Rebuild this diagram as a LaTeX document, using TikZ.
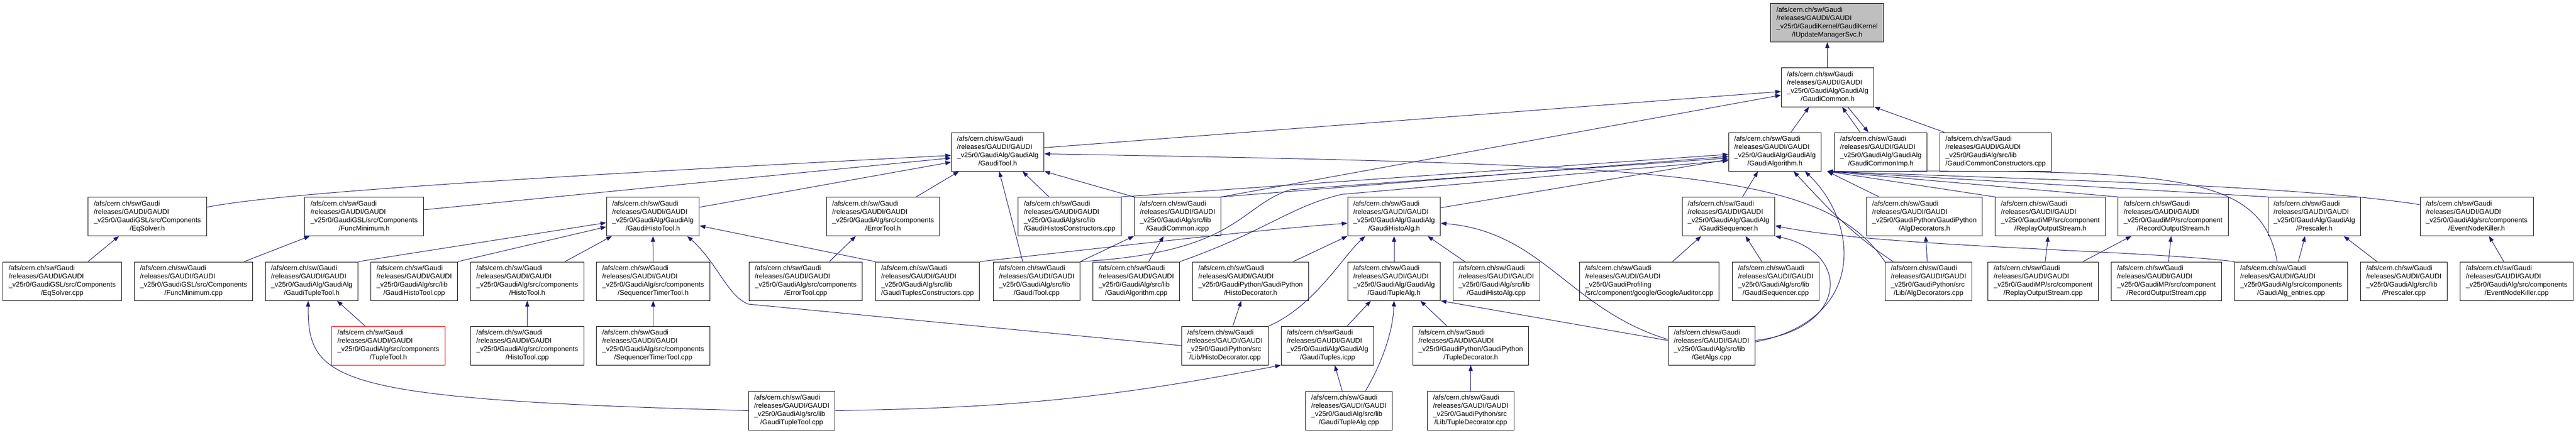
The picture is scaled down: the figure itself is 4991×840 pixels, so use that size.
\documentclass[tikz,border=0pt]{standalone}
\usepackage{fontspec}
\setmainfont{Liberation Sans}
\usepackage{tikz}
\usetikzlibrary{arrows.meta}
\definecolor{edgeblue}{HTML}{191970}
% every box holds the same first two lines, the last line is centred
\newcommand*{\gpath}[2]{\begin{tabular}{@{}l@{}}/afs/cern.ch/sw/Gaudi\\/releases/GAUDI/GAUDI\\\_v25r0/#1\\\multicolumn{1}{@{}c@{}}{/#2}\end{tabular}}
\newcommand*{\gnode}[5][]{\node[file,#1] (#2) at (#3) {\gpath{#4}{#5}};}

\begin{document}
\begin{tikzpicture}[x=1pt,y=1pt,
  file/.style={draw,fill=white,line width=1pt,inner xsep=11pt,inner ysep=5.5pt,font=\fontsize{13.33}{16}\selectfont},
  dep/.style={draw=edgeblue,line width=1pt,-{Triangle[length=11pt,width=8pt]}}]
\useasboundingbox (0,0) rectangle (4991,-840);
% First place the boxes, one row after the other
\gnode[fill=gray!50]{IUpdateMgrH}{3540,-44}{GaudiKernel/GaudiKernel}{IUpdateManagerSvc.h}
\gnode{GaudiCommonH}{3541,-169.5}{GaudiAlg/GaudiAlg}{GaudiCommon.h}
% row 2
\gnode{GaudiToolH}{1933,-294.5}{GaudiAlg/GaudiAlg}{GaudiTool.h}
\gnode{GaudiAlgorithmH}{3439,-294.5}{GaudiAlg/GaudiAlg}{GaudiAlgorithm.h}
\gnode{GaudiCommonImpH}{3644,-294.5}{GaudiAlg/GaudiAlg}{GaudiCommonImp.h}
\gnode{GaudiCommonCtorsCpp}{3866.5,-294.5}{GaudiAlg/src/lib}{GaudiCommonConstructors.cpp}
% row 3
\gnode{EqSolverH}{285.5,-420}{GaudiGSL/src/Components}{EqSolver.h}
\gnode{FuncMinimumH}{705.5,-420}{GaudiGSL/src/Components}{FuncMinimum.h}
\gnode{GaudiHistoToolH}{1265,-420}{GaudiAlg/GaudiAlg}{GaudiHistoTool.h}
\gnode{ErrorToolH}{1711,-420}{GaudiAlg/src/components}{ErrorTool.h}
\gnode{GaudiHistosCtorsCpp}{2072.5,-420}{GaudiAlg/src/lib}{GaudiHistosConstructors.cpp}
\gnode{GaudiCommonIcpp}{2281.5,-420}{GaudiAlg/src/lib}{GaudiCommon.icpp}
\gnode{GaudiHistoAlgH}{2701,-420}{GaudiAlg/GaudiAlg}{GaudiHistoAlg.h}
\gnode{GaudiSequencerH}{3349,-420}{GaudiAlg/GaudiAlg}{GaudiSequencer.h}
\gnode{AlgDecoratorsH}{3728.5,-420}{GaudiPython/GaudiPython}{AlgDecorators.h}
\gnode{ReplayOutputStreamH}{3972.5,-420}{GaudiMP/src/component}{ReplayOutputStream.h}
\gnode{RecordOutputStreamH}{4210.5,-420}{GaudiMP/src/component}{RecordOutputStream.h}
\gnode{PrescalerH}{4484,-420}{GaudiAlg/GaudiAlg}{Prescaler.h}
\gnode{EventNodeKillerH}{4798.5,-420}{GaudiAlg/src/components}{EventNodeKiller.h}
% row 4
\gnode{EqSolverCpp}{120.5,-545.5}{GaudiGSL/src/Components}{EqSolver.cpp}
\gnode{FuncMinimumCpp}{375,-545.5}{GaudiGSL/src/Components}{FuncMinimum.cpp}
\gnode{GaudiTupleToolH}{604,-545.5}{GaudiAlg/GaudiAlg}{GaudiTupleTool.h}
\gnode{GaudiHistoToolCpp}{802.5,-545.5}{GaudiAlg/src/lib}{GaudiHistoTool.cpp}
\gnode{HistoToolH}{1021.5,-545.5}{GaudiAlg/src/components}{HistoTool.h}
\gnode{SequencerTimerToolH}{1265.5,-545.5}{GaudiAlg/src/components}{SequencerTimerTool.h}
\gnode{ErrorToolCpp}{1561,-545.5}{GaudiAlg/src/components}{ErrorTool.cpp}
\gnode{GaudiTuplesCtorsCpp}{1797,-545.5}{GaudiAlg/src/lib}{GaudiTuplesConstructors.cpp}
\gnode{GaudiToolCpp}{2008.5,-545.5}{GaudiAlg/src/lib}{GaudiTool.cpp}
\gnode{GaudiAlgorithmCpp}{2201.5,-545.5}{GaudiAlg/src/lib}{GaudiAlgorithm.cpp}
\gnode{HistoDecoratorH}{2423,-545.5}{GaudiPython/GaudiPython}{HistoDecorator.h}
\gnode{GaudiTupleAlgH}{2701,-545.5}{GaudiAlg/GaudiAlg}{GaudiTupleAlg.h}
\gnode{GaudiHistoAlgCpp}{2899,-545.5}{GaudiAlg/src/lib}{GaudiHistoAlg.cpp}
\gnode{GoogleAuditorCpp}{3195.5,-545.5}{GaudiProfiling}{src/component/google/GoogleAuditor.cpp}
\gnode{GaudiSequencerCpp}{3440.5,-545.5}{GaudiAlg/src/lib}{GaudiSequencer.cpp}
\gnode{AlgDecoratorsCpp}{3736.5,-545.5}{GaudiPython/src}{Lib/AlgDecorators.cpp}
\gnode{ReplayOutputStreamCpp}{3958.5,-545.5}{GaudiMP/src/component}{ReplayOutputStream.cpp}
\gnode{RecordOutputStreamCpp}{4197.5,-545.5}{GaudiMP/src/component}{RecordOutputStream.cpp}
\gnode{GaudiAlgEntriesCpp}{4439,-545.5}{GaudiAlg/src/components}{GaudiAlg\_entries.cpp}
\gnode{PrescalerCpp}{4657.5,-545.5}{GaudiAlg/src/lib}{Prescaler.cpp}
\gnode{EventNodeKillerCpp}{4876,-545.5}{GaudiAlg/src/components}{EventNodeKiller.cpp}
% row 5
\gnode[draw=red]{TupleToolH}{752.5,-670.5}{GaudiAlg/src/components}{TupleTool.h}
\gnode{HistoToolCpp}{1021.5,-670.5}{GaudiAlg/src/components}{HistoTool.cpp}
\gnode{SequencerTimerToolCpp}{1265.5,-670.5}{GaudiAlg/src/components}{SequencerTimerTool.cpp}
\gnode{HistoDecoratorCpp}{2373.5,-670.5}{GaudiPython/src}{Lib/HistoDecorator.cpp}
\gnode{GaudiTuplesIcpp}{2572,-670.5}{GaudiAlg/GaudiAlg}{GaudiTuples.icpp}
\gnode{TupleDecoratorH}{2849.5,-670.5}{GaudiPython/GaudiPython}{TupleDecorator.h}
\gnode{GetAlgsCpp}{3316,-670.5}{GaudiAlg/src/lib}{GetAlgs.cpp}
% row 6
\gnode{GaudiTupleToolCpp}{1534,-796.5}{GaudiAlg/src/lib}{GaudiTupleTool.cpp}
\gnode{GaudiTupleAlgCpp}{2613.5,-796.5}{GaudiAlg/src/lib}{GaudiTupleAlg.cpp}
\gnode{TupleDecoratorCpp}{2849.5,-796.5}{GaudiPython/src}{Lib/TupleDecorator.cpp}

% Now connect the includes: the arrow points at the included file
\draw[dep] (GaudiCommonH) -- (IUpdateMgrH);
\draw[dep] ([xshift=31pt]GaudiAlgorithmH.north) -- ([xshift=-36pt]GaudiCommonH.south);
\draw[dep] ([xshift=-40pt]GaudiCommonImpH.north) -- ([xshift=28pt]GaudiCommonH.south);
\draw[dep] ([xshift=39pt]GaudiCommonH.south) -- ([xshift=-24pt]GaudiCommonImpH.north);
\draw[dep] ([xshift=9pt]GaudiCommonCtorsCpp.north west) -- (GaudiCommonH.south east);
\draw[dep] ([yshift=8pt]GaudiToolH.east) -- ([yshift=-8pt]GaudiCommonH.west);
\draw[dep] (GaudiCommonIcpp.north east) -- ([yshift=-15pt]GaudiCommonH.west);
% GaudiTool.h
\draw[dep] ([yshift=18pt]EqSolverH.east) .. controls (520,-378) and (900,-350) .. ([yshift=-7pt]GaudiToolH.west);
\draw[dep] ([yshift=13pt]FuncMinimumH.east) -- ([yshift=-12pt]GaudiToolH.west);
\draw[dep] ([yshift=18pt]GaudiHistoToolH.east) -- ([yshift=-20pt]GaudiToolH.west);
\draw[dep] ([xshift=64pt]ErrorToolH.north) -- ([xshift=-75pt]GaudiToolH.south);
\draw[dep] ([xshift=-27pt]GaudiToolCpp.north) -- ([xshift=3pt]GaudiToolH.south);
\draw[dep] ([xshift=-40pt]GaudiHistosCtorsCpp.north) -- ([xshift=48pt]GaudiToolH.south);
\draw[dep] (GaudiCommonIcpp.north west) -- (GaudiToolH.south east);
\draw[dep] (AlgDecoratorsCpp.north west) .. controls (3530,-330) and (3250,-320) .. ([yshift=-4pt]GaudiToolH.east);
% GaudiHistoTool.h
\draw[dep] (GaudiTupleToolH.north east) -- ([yshift=-12pt]GaudiHistoToolH.west);
\draw[dep] (GaudiHistoToolCpp.north east) -- ([yshift=-20pt]GaudiHistoToolH.west);
\draw[dep] ([xshift=-37pt]HistoToolH.north east) -- ([xshift=11pt]GaudiHistoToolH.south west);
\draw[dep] (SequencerTimerToolH) -- (GaudiHistoToolH);
\draw[dep] (HistoDecoratorCpp.west) -- (1450,-590) .. controls (1410,-575) and (1390,-510) .. ([xshift=-24pt]GaudiHistoToolH.south east);
\draw[dep] (GaudiTuplesCtorsCpp.north west) -- ([yshift=-18pt]GaudiHistoToolH.east);
% small families on the left
\draw[dep] ([xshift=46pt]ErrorToolCpp.north) -- ([xshift=-53pt]ErrorToolH.south);
\draw[dep] ([xshift=50pt]EqSolverCpp.north) -- ([xshift=-55pt]EqSolverH.south);
\draw[dep] ([xshift=-17pt]FuncMinimumCpp.north east) -- ([xshift=10pt]FuncMinimumH.south west);
\draw[dep] (HistoToolCpp) -- (HistoToolH);
\draw[dep] (SequencerTimerToolCpp) -- (SequencerTimerToolH);
\draw[dep] ([xshift=-45pt]TupleToolH.north) -- ([xshift=49pt]GaudiTupleToolH.south);
\draw[dep] (GaudiTupleToolCpp.west) .. controls (640,-775) and (597,-740) .. ([xshift=-7pt]GaudiTupleToolH.south);
\draw[dep] (GaudiTupleToolCpp.east) to[bend right=5] (GaudiTuplesIcpp.south west);
% GaudiCommon.icpp
\draw[dep] (GaudiToolCpp.north east) -- (GaudiCommonIcpp.south west);
\draw[dep] ([xshift=24pt]GaudiAlgorithmCpp.north) -- ([xshift=-27pt]GaudiCommonIcpp.south);
% GaudiAlgorithm.h from the left
\draw[dep] (GaudiHistosCtorsCpp.north east) -- ([yshift=-5pt]GaudiAlgorithmH.west);
\draw[dep] (GaudiCommonIcpp.north east) -- ([yshift=-9pt]GaudiAlgorithmH.west);
\draw[dep] (GaudiToolCpp.north east) .. controls (2400,-490) and (2400,-400) .. (2500,-368) -- ([yshift=-12pt]GaudiAlgorithmH.west);
\draw[dep] (GaudiAlgorithmCpp.north east) .. controls (2450,-450) and (2500,-400) .. (2600,-377) -- ([yshift=-17pt]GaudiAlgorithmH.west);
\draw[dep] ([yshift=17pt]GaudiHistoAlgH.east) -- ([yshift=-15pt]GaudiAlgorithmH.west);
% GaudiHistoAlg.h
\draw[dep] ([xshift=-30pt]HistoDecoratorH.north east) -- (GaudiHistoAlgH.south west);
\draw[dep] (HistoDecoratorCpp.north east) .. controls (2545,-595) and (2600,-500) .. ([xshift=-56pt]GaudiHistoAlgH.south);
\draw[dep] (GaudiTupleAlgH) -- (GaudiHistoAlgH);
\draw[dep] ([xshift=-61pt]GaudiHistoAlgCpp.north) -- ([xshift=65pt]GaudiHistoAlgH.south);
\draw[dep] (GaudiTuplesCtorsCpp.north east) .. controls (2250,-468) and (2450,-445) .. ([yshift=-13pt]GaudiHistoAlgH.west);
\draw[dep] ([yshift=12pt]GetAlgsCpp.west) .. controls (3040,-600) and (2990,-450) .. ([yshift=-13pt]GaudiHistoAlgH.east);
% GetAlgs.cpp
\draw[dep] ([yshift=10pt]GetAlgsCpp.west) -- (GaudiTupleAlgH.south east);
\draw[dep] ([yshift=10pt]GetAlgsCpp.east) .. controls (3580,-640) and (3590,-490) .. (GaudiSequencerH.south east);
\draw[dep] ([yshift=7pt]GetAlgsCpp.east) .. controls (3620,-620) and (3600,-430) .. ([xshift=58pt]GaudiAlgorithmH.south);
\draw[dep] ([xshift=16pt]AlgDecoratorsCpp.north west) .. controls (3580,-450) and (3520,-380) .. ([xshift=36pt]GaudiAlgorithmH.south);
% GaudiSequencer.h
\draw[dep] ([xshift=27pt]GaudiSequencerH.north) -- ([xshift=-33pt]GaudiAlgorithmH.south);
\draw[dep] ([xshift=-27pt]GaudiSequencerCpp.north) -- ([xshift=33pt]GaudiSequencerH.south);
\draw[dep] ([xshift=45pt]GoogleAuditorCpp.north) -- ([xshift=-53pt]GaudiSequencerH.south);
\draw[dep] (GaudiAlgEntriesCpp.north west) .. controls (4150,-485) and (3650,-480) .. ([yshift=-18pt]GaudiSequencerH.east);
% GaudiAlgorithm.h from the right
\draw[dep] ([xshift=-27pt]GaudiAlgEntriesCpp.north) .. controls (4380,-330) and (4200,-330) .. ([xshift=11pt]GaudiAlgorithmH.south east);
\draw[dep] (PrescalerH.north west) -- ([xshift=11pt]GaudiAlgorithmH.south east);
\draw[dep] ([yshift=23pt]EventNodeKillerH.west) .. controls (4450,-360) and (4000,-350) .. ([xshift=11pt]GaudiAlgorithmH.south east);
\draw[dep] ([xshift=25pt]AlgDecoratorsH.north west) -- ([xshift=11pt]GaudiAlgorithmH.south east);
\draw[dep] (ReplayOutputStreamH.north west) -- ([xshift=11pt]GaudiAlgorithmH.south east);
\draw[dep] (RecordOutputStreamH.north west) -- ([xshift=11pt]GaudiAlgorithmH.south east);
% right hand families
\draw[dep] (AlgDecoratorsCpp) -- (AlgDecoratorsH);
\draw[dep] (ReplayOutputStreamCpp) -- (ReplayOutputStreamH);
\draw[dep] ([xshift=77pt]ReplayOutputStreamCpp.north) -- ([xshift=-81pt]RecordOutputStreamH.south);
\draw[dep] (RecordOutputStreamCpp) -- (RecordOutputStreamH);
\draw[dep] ([xshift=14pt]GaudiAlgEntriesCpp.north) -- ([xshift=-18pt]PrescalerH.south);
\draw[dep] ([xshift=-52pt]PrescalerCpp.north) -- ([xshift=57pt]PrescalerH.south);
\draw[dep] ([xshift=-25pt]EventNodeKillerCpp.north) -- ([xshift=24pt]EventNodeKillerH.south);
% tuples and decorators
\draw[dep] ([xshift=15pt]HistoDecoratorCpp.north) -- ([xshift=-18pt]HistoDecoratorH.south);
\draw[dep] ([xshift=38pt]GaudiTuplesIcpp.north) -- ([xshift=-45pt]GaudiTupleAlgH.south);
\draw[dep] ([xshift=-46pt]TupleDecoratorH.north) -- ([xshift=51pt]GaudiTupleAlgH.south);
\draw[dep] ([xshift=-13pt]GaudiTupleAlgCpp.north) -- ([xshift=14pt]GaudiTuplesIcpp.south);
\draw[dep] ([xshift=32pt]GaudiTupleAlgCpp.north) .. controls (2680,-700) and (2699,-640) .. (GaudiTupleAlgH.south);
\draw[dep] (TupleDecoratorCpp) -- (TupleDecoratorH);
\end{tikzpicture}
\end{document}
